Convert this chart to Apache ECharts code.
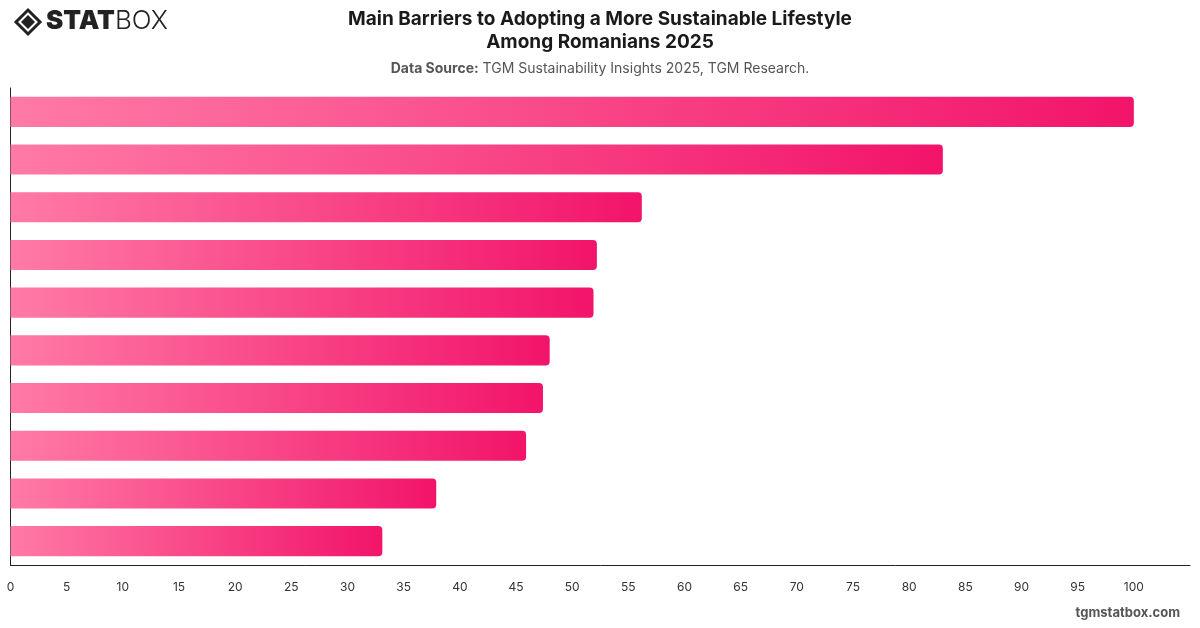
<!DOCTYPE html>
<html>
<head>
<meta charset="utf-8">
<title>Main Barriers to Adopting a More Sustainable Lifestyle Among Romanians 2025</title>
<script src="https://cdn.jsdelivr.net/npm/echarts@6/dist/echarts.min.js"></script>
<style>
  html, body { margin: 0; padding: 0; background: #fff; }
  #chart { width: 1200px; height: 628px; }
</style>
</head>
<body>
<div id="chart"></div>
<script>
// barrier categories (labels are not shown on the chart), top to bottom
var categories = [
  "Barrier 1", "Barrier 2", "Barrier 3", "Barrier 4", "Barrier 5",
  "Barrier 6", "Barrier 7", "Barrier 8", "Barrier 9", "Barrier 10"
];
// values
var values = [100, 83, 56.2, 52.2, 51.9, 48, 47.4, 45.9, 37.9, 33.1];
var xTicks = { min: 0, max: 105, interval: 5 };

var chart = echarts.init(document.getElementById("chart"));

var barGradient = new echarts.graphic.LinearGradient(0, 0, 1, 0, [
  { offset: 0, color: "#ff7aa6" },
  { offset: 1, color: "#f2146a" }
]);

var option = {
  animation: false,
  title: [
    {
      text: "Main Barriers to Adopting a More Sustainable Lifestyle\nAmong Romanians 2025",
      left: "center",
      top: 3,
      textStyle: {
        fontFamily: "Inter",
        fontSize: 19,
        fontWeight: "bold",
        color: "#1a1a1a",
        lineHeight: 23
      }
    },
    {
      text: "{b|Data Source:} TGM Sustainability Insights 2025, TGM Research.",
      left: "center",
      top: 57,
      textStyle: {
        fontFamily: "Inter",
        fontSize: 14,
        fontWeight: "normal",
        color: "#555",
        rich: {
          b: { fontFamily: "Inter", fontSize: 14, fontWeight: "bold", color: "#555" }
        }
      }
    }
  ],
  graphic: [
    // logo icon
    {
      type: "polygon",
      shape: { points: [[28, 10], [40, 22], [28, 34], [16, 22]] },
      style: { fill: "none", stroke: "#222", lineWidth: 3 }
    },
    {
      type: "polygon",
      shape: { points: [[28, 15], [35, 22], [28, 29], [21, 22]] },
      style: { fill: "#222" }
    },
    {
      type: "text",
      left: 46,
      top: 8,
      style: {
        text: "{s|STAT}{b|BOX}",
        rich: {
          s: { fontFamily: "Inter", fontSize: 26, fontWeight: 900, fill: "#222" },
          b: { fontFamily: "Inter", fontSize: 26, fontWeight: 300, fill: "#222" }
        }
      }
    },
    {
      type: "text",
      right: 20,
      top: 607,
      style: {
        text: "tgmstatbox.com",
        fontFamily: "Inter",
        fontSize: 13,
        fontWeight: "bold",
        fill: "#555"
      }
    }
  ],
  grid: {
    left: 10.5,
    right: 10,
    top: 88,
    bottom: 63,
    containLabel: false
  },
  xAxis: {
    type: "value",
    min: xTicks.min,
    max: xTicks.max,
    interval: xTicks.interval,
    axisLine: { show: true, lineStyle: { color: "#222", width: 1 } },
    axisTick: { show: false },
    splitLine: { show: false },
    axisLabel: {
      showMaxLabel: false,
      margin: 16,
      fontFamily: "Inter",
      fontSize: 12,
      color: "#333"
    }
  },
  yAxis: {
    type: "category",
    data: categories,
    inverse: true,
    axisLine: { show: true, lineStyle: { color: "#222", width: 1 } },
    axisTick: { show: false },
    axisLabel: { show: false },
    splitLine: { show: false }
  },
  series: [
    {
      type: "bar",
      data: values,
      barCategoryGap: "37%",
      itemStyle: {
        color: barGradient,
        borderRadius: [0, 4, 4, 0]
      }
    }
  ]
};

chart.setOption(option);
window.addEventListener("resize", function () {
  chart.resize();
});
</script>
</body>
</html>
